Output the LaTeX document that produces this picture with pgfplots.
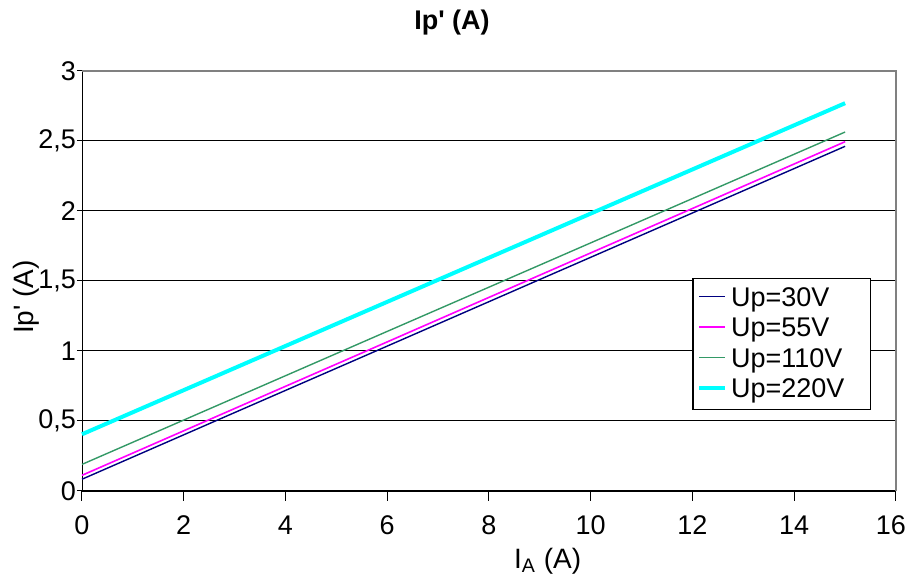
\documentclass[border=0pt]{standalone}
\usepackage{fontspec}
\setmainfont{Liberation Sans}
\usepackage{pgfplots}
\pgfplotsset{compat=1.18}
\definecolor{c30}{RGB}{0,0,128}
\definecolor{c55}{RGB}{255,0,255}
\definecolor{c110}{RGB}{51,153,102}
\definecolor{c220}{RGB}{0,255,255}
\definecolor{framegray}{RGB}{128,128,128}
\begin{document}
\begin{tikzpicture}
\begin{axis}[
  at={(0,0)}, anchor=south west,
  scale only axis,
  width=407pt, height=210pt,
  xmin=0, xmax=16, ymin=0, ymax=3,
  xtick={0,2,...,14}, ytick={0,0.5,...,3},
  extra x ticks={16},
  extra x tick style={xticklabel style={xshift=-2.5pt}},
  /pgf/number format/use comma,
  /pgf/number format/assume math mode=true,
  ticklabel style={font=\fontsize{13.5}{15}\selectfont},
  ymajorgrids, grid style={black, line width=0.5pt},
  axis x line*=bottom, axis y line*=left,
  x axis line style={-}, y axis line style={-},
  xtick style={black, line width=0.5pt},
  ytick style={black, line width=0.5pt},
  xtick align=outside, ytick align=center,
  major tick length=5pt,
  xticklabel style={yshift=-4pt},
  yticklabel style={xshift=3pt},
  clip=false,
  legend style={at={(0.75,0.507)}, anchor=north west, draw=black, line width=0.6pt,
    font=\fontsize{13.5}{11}\selectfont, inner ysep=2.5pt, inner xsep=2pt, row sep=0.3pt,
    text depth=0pt, cells={anchor=west}},
  legend cell align=left,
  legend image code/.code={\draw[#1] (0pt,1pt) -- (13pt,1pt);},
]
\draw[framegray, line width=0.8pt] (rel axis cs:0,1) -- (rel axis cs:1,1) -- (rel axis cs:1,0);
\addplot[c30, line width=0.7pt] coordinates {(0,0.084) (3,0.560) (6,1.035) (9,1.511) (12,1.986) (15,2.462)};
\addlegendentry{Up=30V}
\addplot[c55, line width=0.8pt] coordinates {(0,0.112) (3,0.589) (6,1.065) (9,1.542) (12,2.018) (15,2.495)};
\addlegendentry{Up=55V}
\addplot[c110, line width=0.7pt] coordinates {(0,0.190) (3,0.665) (6,1.140) (9,1.614) (12,2.089) (15,2.564)};
\addlegendentry{Up=110V}
\addplot[c220, line width=2pt] coordinates {(0,0.405) (3,0.878) (6,1.351) (9,1.824) (12,2.297) (15,2.770)};
\addlegendentry{Up=220V\hspace*{9pt}}
\node[font=\bfseries\fontsize{13.5}{15}\selectfont] at ([yshift=24pt]rel axis cs:0.4545,1) {Ip\textquotesingle{} (A)};
\node[font=\fontsize{14}{16}\selectfont] at ([yshift=-35pt]rel axis cs:0.572,0) {I\textsubscript{A} (A)};
\node[font=\fontsize{14}{16}\selectfont, rotate=90] at ([xshift=-28pt]rel axis cs:0,0.462) {Ip\textquotesingle{} (A)};
\end{axis}
\pgfresetboundingbox
\path (-41pt,-42.5pt) rectangle (412.5pt,245.5pt);
\end{tikzpicture}
\end{document}
